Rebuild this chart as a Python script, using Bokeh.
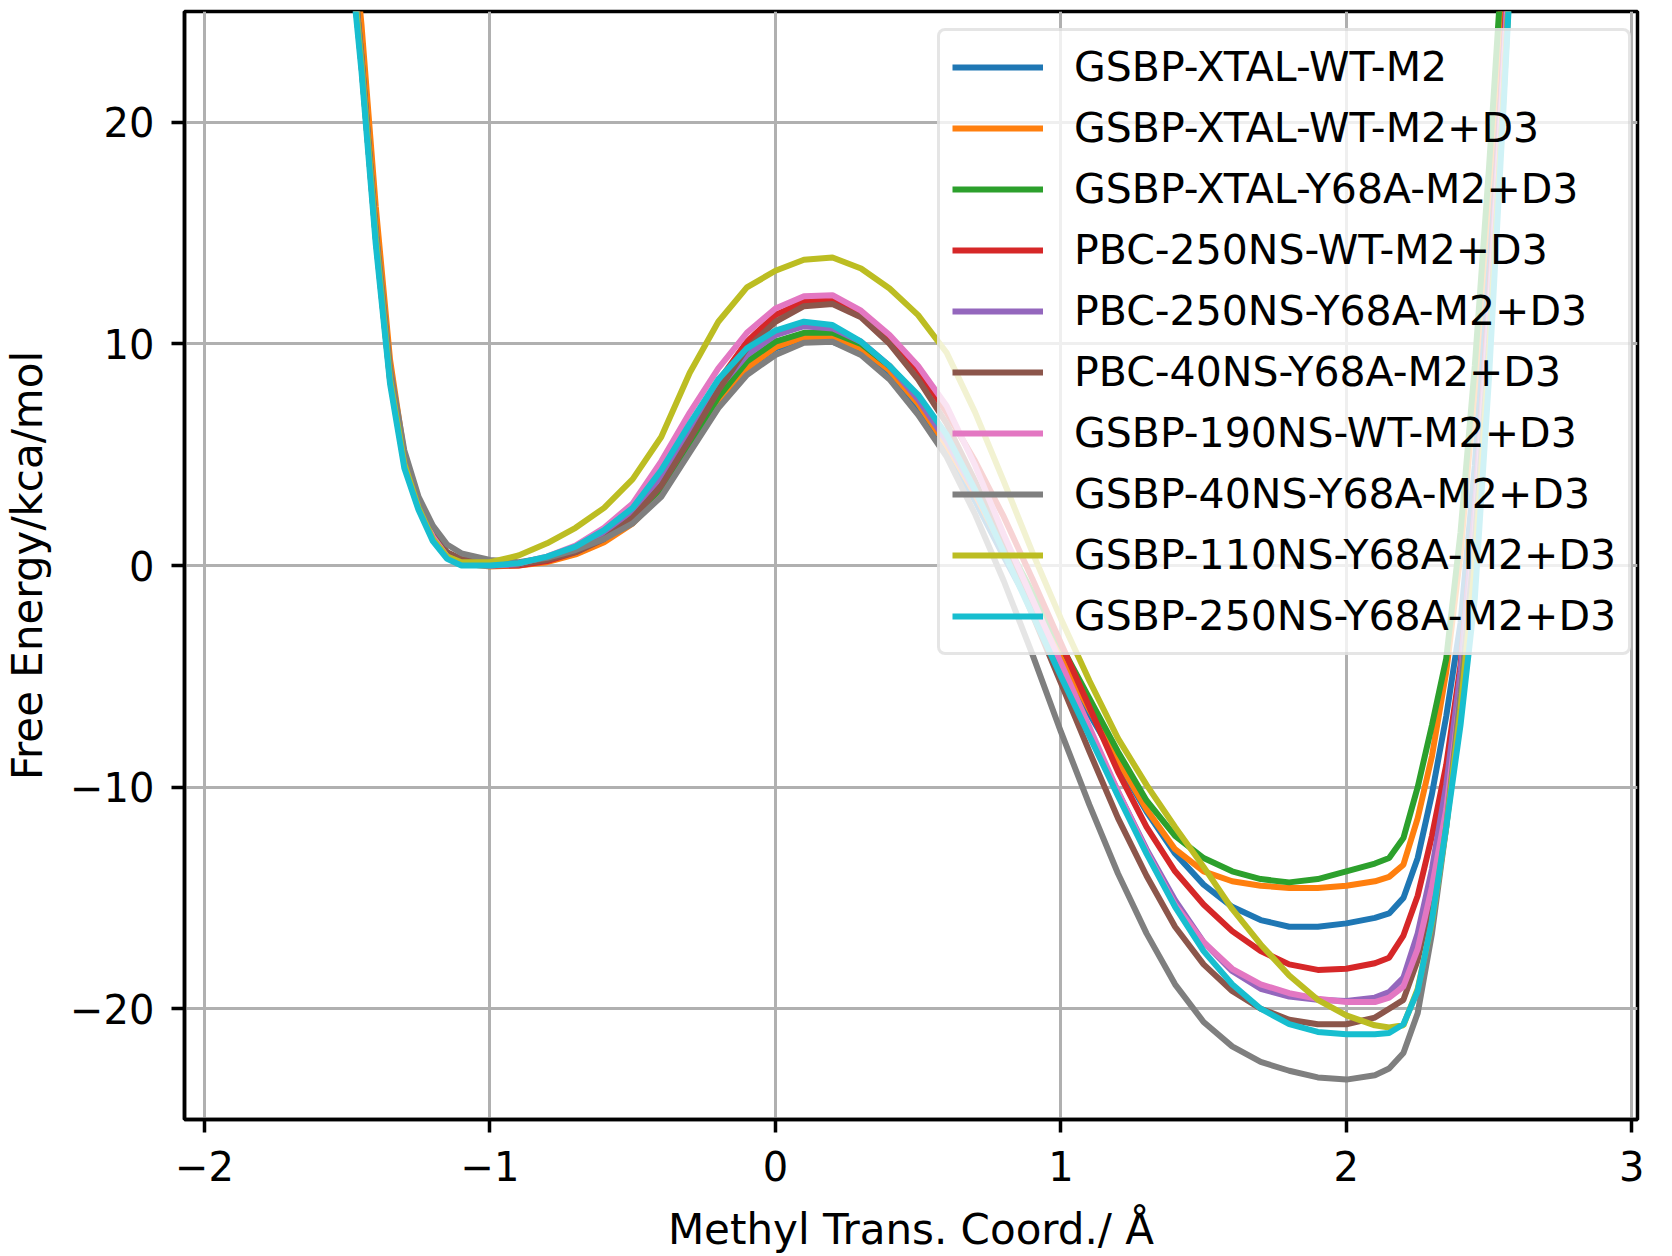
from bokeh.plotting import figure
from bokeh.models import Range1d, Legend, LegendItem, FixedTicker
from bokeh.embed import file_html
from bokeh.resources import INLINE

# ---------------- data ----------------
x_coord = [-1.55, -1.45, -1.4, -1.35, -1.3, -1.25, -1.2, -1.15, -1.1, -1.0,
           -0.9, -0.8, -0.7, -0.6, -0.5, -0.4, -0.3, -0.2, -0.1, 0.0,
           0.1, 0.2, 0.3, 0.4, 0.5, 0.6, 0.7, 0.8, 0.9, 1.0,
           1.1, 1.2, 1.3, 1.4, 1.5, 1.6, 1.7, 1.8, 1.9, 2.0,
           2.1, 2.15, 2.2, 2.25, 2.3, 2.35, 2.4, 2.45, 2.5, 2.55, 2.6]

gsbp_xtal_wt_m2 = [36, 22.6, 14.8, 8.5, 4.7, 2.7, 1.3, 0.4, 0.1, 0.0,
                   0.1, 0.3, 0.65, 1.2, 2.0, 3.3, 5.3, 7.3, 8.9, 9.8,
                   10.15, 10.1, 9.6, 8.6, 7.1, 5.2, 2.9, 0.4, -2.0, -4.4,
                   -6.7, -8.9, -11.1, -13.0, -14.4, -15.4, -16.0, -16.3, -16.3, -16.15,
                   -15.9, -15.7, -15.0, -13.2, -10.3, -6.8, -2.6, 4.5, 14, 25, 37]

gsbp_xtal_wt_m2_d3 = [38, 24.4, 16.2, 9.3, 5.0, 2.8, 1.3, 0.45, 0.1, -0.05,
                      0.0, 0.15, 0.5, 1.05, 1.9, 3.2, 5.2, 7.3, 8.9, 9.85,
                      10.3, 10.3, 9.8, 8.8, 7.3, 5.4, 3.2, 0.7, -1.7, -4.1,
                      -6.5, -8.8, -11.0, -12.8, -13.8, -14.25, -14.45, -14.55, -14.55, -14.45,
                      -14.25, -14.05, -13.5, -11.4, -8.6, -4.8, 0.5, 8, 17, 27, 38]

gsbp_xtal_y68a_m2_d3 = [36.5, 22.9, 15.0, 8.6, 4.8, 2.8, 1.35, 0.45, 0.1, 0.0,
                        0.1, 0.3, 0.7, 1.3, 2.15, 3.5, 5.5, 7.6, 9.2, 10.1,
                        10.5, 10.5, 10.0, 9.0, 7.6, 5.8, 3.6, 1.2, -1.2, -3.6,
                        -6.0, -8.4, -10.6, -12.2, -13.2, -13.8, -14.15, -14.3, -14.15, -13.8,
                        -13.45, -13.2, -12.3, -10.0, -7.2, -4.2, 1.5, 9, 18, 28, 39]

pbc_250ns_wt_m2_d3 = [36, 22.7, 14.9, 8.5, 4.7, 2.7, 1.35, 0.5, 0.15, 0.0,
                      0.0, 0.2, 0.6, 1.25, 2.3, 3.9, 6.1, 8.3, 10.1, 11.3,
                      11.9, 12.0, 11.4, 10.3, 8.8, 6.9, 4.7, 2.2, -0.6, -3.5,
                      -6.4, -9.3, -11.8, -13.8, -15.3, -16.5, -17.4, -18.0, -18.25, -18.2,
                      -17.95, -17.7, -16.7, -14.9, -12.2, -9.0, -4.5, 2.5, 12, 23, 35]

pbc_250ns_y68a_m2_d3 = [36, 22.6, 14.8, 8.4, 4.6, 2.6, 1.25, 0.4, 0.05, 0.0,
                        0.05, 0.3, 0.75, 1.45, 2.5, 4.0, 6.0, 8.0, 9.5, 10.4,
                        10.8, 10.7, 10.1, 9.0, 7.5, 5.6, 3.3, 0.8, -2.0, -4.8,
                        -7.5, -10.2, -12.8, -15.1, -17.0, -18.3, -19.1, -19.45, -19.6, -19.65,
                        -19.5, -19.25, -18.6, -16.6, -13.7, -9.9, -4.8, 2.5, 11.5, 22.5, 34]

pbc_40ns_y68a_m2_d3 = [36.5, 22.9, 15.0, 8.7, 4.9, 2.9, 1.5, 0.6, 0.3, 0.1,
                       0.05, 0.25, 0.6, 1.2, 2.15, 3.6, 5.7, 7.9, 9.8, 11.0,
                       11.7, 11.8, 11.2, 10.0, 8.4, 6.4, 3.8, 0.9, -2.2, -5.3,
                       -8.4, -11.4, -14.0, -16.3, -18.0, -19.2, -20.0, -20.5, -20.7, -20.7,
                       -20.4, -20.0, -19.6, -17.8, -15.0, -11.4, -6.2, 1.0, 10.5, 21.5, 33]

gsbp_190ns_wt_m2_d3 = [36, 22.6, 14.8, 8.4, 4.6, 2.6, 1.3, 0.4, 0.1, 0.0,
                       0.1, 0.4, 0.9, 1.7, 2.8, 4.7, 6.9, 8.9, 10.5, 11.6,
                       12.15, 12.2, 11.5, 10.4, 9.0, 7.2, 4.5, 1.4, -1.5, -4.4,
                       -7.3, -10.2, -12.9, -15.3, -17.0, -18.2, -18.9, -19.3, -19.55, -19.7,
                       -19.7, -19.5, -19.0, -17.3, -14.5, -11.0, -5.8, 1.5, 11, 22, 34]

gsbp_40ns_y68a_m2_d3 = [36.5, 23.0, 15.2, 8.9, 5.2, 3.1, 1.8, 0.95, 0.55, 0.25,
                        0.15, 0.35, 0.7, 1.2, 1.9, 3.1, 5.1, 7.1, 8.6, 9.5,
                        10.05, 10.1, 9.5, 8.4, 6.8, 4.9, 2.3, -0.7, -4.0, -7.5,
                        -10.8, -13.9, -16.6, -18.9, -20.6, -21.7, -22.4, -22.8, -23.1, -23.2,
                        -23.0, -22.7, -22.0, -20.2, -16.6, -11.8, -5.8, 1.0, 10, 21, 33]

gsbp_110ns_y68a_m2_d3 = [36, 22.6, 14.8, 8.4, 4.6, 2.6, 1.2, 0.4, 0.15, 0.15,
                         0.45, 1.0, 1.7, 2.6, 3.9, 5.8, 8.7, 11.0, 12.55, 13.3,
                         13.8, 13.9, 13.4, 12.5, 11.3, 9.6, 6.9, 3.8, 0.6, -2.4,
                         -5.2, -7.8, -9.9, -11.8, -13.6, -15.5, -17.1, -18.5, -19.6, -20.3,
                         -20.75, -20.85, -20.75, -19.1, -16.1, -11.8, -6.5, 0.0, 9.5, 21, 33]

gsbp_250ns_y68a_m2_d3 = [35.5, 22.3, 14.5, 8.2, 4.4, 2.5, 1.1, 0.3, 0.0, 0.0,
                         0.1, 0.4, 0.85, 1.6, 2.6, 4.3, 6.4, 8.4, 9.8, 10.6,
                         11.0, 10.85, 10.1, 9.0, 7.7, 5.9, 3.4, 0.6, -2.2, -5.0,
                         -7.7, -10.4, -13.0, -15.4, -17.4, -18.9, -20.0, -20.7, -21.05, -21.15,
                         -21.15, -21.1, -20.7, -19.2, -16.0, -11.8, -7.2, -1.5, 8.5, 20.5, 33]

series_names = ["GSBP-XTAL-WT-M2", "GSBP-XTAL-WT-M2+D3", "GSBP-XTAL-Y68A-M2+D3",
                "PBC-250NS-WT-M2+D3", "PBC-250NS-Y68A-M2+D3", "PBC-40NS-Y68A-M2+D3",
                "GSBP-190NS-WT-M2+D3", "GSBP-40NS-Y68A-M2+D3", "GSBP-110NS-Y68A-M2+D3",
                "GSBP-250NS-Y68A-M2+D3"]
series_values = [gsbp_xtal_wt_m2, gsbp_xtal_wt_m2_d3, gsbp_xtal_y68a_m2_d3,
                 pbc_250ns_wt_m2_d3, pbc_250ns_y68a_m2_d3, pbc_40ns_y68a_m2_d3,
                 gsbp_190ns_wt_m2_d3, gsbp_40ns_y68a_m2_d3, gsbp_110ns_y68a_m2_d3,
                 gsbp_250ns_y68a_m2_d3]
series_colors = ["#1f77b4", "#ff7f0e", "#2ca02c", "#d62728", "#9467bd",
                 "#8c564b", "#e377c2", "#7f7f7f", "#bcbd22", "#17becf"]

x_ticks = [-2, -1, 0, 1, 2, 3]
x_tick_labels = ["\u22122", "\u22121", "0", "1", "2", "3"]
y_ticks = [-20, -10, 0, 10, 20]
y_tick_labels = ["\u221220", "\u221210", "0", "10", "20"]

x_label = "Methyl Trans. Coord./ \u00c5"
y_label = "Free Energy/kca/mol"

# ---------------- figure ----------------
FONT = "DejaVu Sans"

p = figure(width=1672, height=1256, output_backend="svg", toolbar_location=None,
           x_range=Range1d(-2.07, 3.02), y_range=Range1d(-25, 25),
           min_border_left=179, min_border_right=35, min_border_top=11,
           min_border_bottom=136)

p.background_fill_color = "white"
p.border_fill_color = "white"
p.outline_line_color = "black"
p.outline_line_width = 3.5

for ax, ticks, labels in ((p.xaxis, x_ticks, x_tick_labels), (p.yaxis, y_ticks, y_tick_labels)):
    ax.ticker = FixedTicker(ticks=ticks)
    ax.major_label_overrides = {t: l for t, l in zip(ticks, labels)}
    ax.major_tick_in = 0
    ax.major_tick_out = 13
    ax.major_tick_line_width = 3.5
    ax.major_tick_line_color = "black"
    ax.minor_tick_line_color = None
    ax.axis_line_width = 3.5
    ax.axis_line_color = "black"
    ax.major_label_text_font = FONT
    ax.major_label_text_font_size = "40px"
    ax.major_label_text_color = "black"
    ax.axis_label_text_font = FONT
    ax.axis_label_text_font_size = "42px"
    ax.axis_label_text_font_style = "normal"
    ax.axis_label_text_color = "black"

p.xaxis.axis_label = x_label
p.yaxis.axis_label = y_label
p.xaxis.major_label_standoff = 18
p.xaxis.axis_label_standoff = 21
p.yaxis.major_label_standoff = 17
p.yaxis.axis_label_standoff = 15

p.xgrid.ticker = FixedTicker(ticks=x_ticks)
p.ygrid.ticker = FixedTicker(ticks=y_ticks)
for g in (p.xgrid, p.ygrid):
    g.grid_line_color = "#b0b0b0"
    g.grid_line_width = 3

items = []
for name, vals, col in zip(series_names, series_values, series_colors):
    r = p.line(x_coord, vals, line_color=col, line_width=6)
    items.append(LegendItem(label=name, renderers=[r]))

legend = Legend(items=items, location=(753, 464))
legend.label_text_font = FONT
legend.label_text_font_size = "41px"
legend.label_text_color = "black"
legend.glyph_width = 91
legend.glyph_height = 48
legend.label_height = 48
legend.label_standoff = 31
legend.spacing = 13
legend.padding = 12
legend.margin = 0
legend.border_line_color = "#cccccc"
legend.border_line_width = 3
legend.background_fill_color = "white"
legend.background_fill_alpha = 0.8
try:
    legend.border_radius = 8
except Exception:
    pass
p.add_layout(legend)

open("out.html", "w").write(file_html(p, INLINE))
